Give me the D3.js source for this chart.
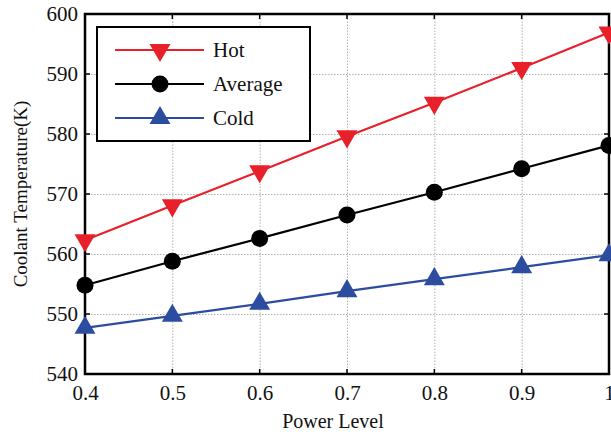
<!DOCTYPE html>
<html>
<head>
<meta charset="utf-8">
<script src="https://cdn.jsdelivr.net/npm/d3@7"></script>
<style>
  body { margin: 0; background: #fff; overflow: hidden; }
  svg { display: block; font-family: "Liberation Serif", "Times New Roman", serif; }
  .grid line { stroke: #b0b0b0; stroke-dasharray: 1.5 1.5; stroke-width: 1; }
  .grid .domain { display: none; }
</style>
</head>
<body>
<div class="line-chart"></div>
<script>
const powerLevels = [0.4, 0.5, 0.6, 0.7, 0.8, 0.9, 1.0];
const hotValues = [562.3, 568.1, 573.8, 579.6, 585.2, 591.0, 596.9];
const averageValues = [554.8, 558.8, 562.6, 566.5, 570.3, 574.2, 578.1];
const coldValues = [547.7, 549.7, 551.7, 553.8, 555.8, 557.8, 559.8];
const xTicks = [0.4, 0.5, 0.6, 0.7, 0.8, 0.9, 1];
const yTicks = [540, 550, 560, 570, 580, 590, 600];

const width = 611, height = 435;
const margin = { left: 85, right: 2, top: 14, bottom: 61 };
const serif = '"Liberation Serif", "Times New Roman", serif';

const series = [
  { name: "Hot", values: hotValues, color: "#e8202a", marker: "down" },
  { name: "Average", values: averageValues, color: "#000000", marker: "circle" },
  { name: "Cold", values: coldValues, color: "#2b4c9f", marker: "up" }
];

const svg = d3.select(".line-chart")
  .append("svg")
  .attr("width", width)
  .attr("height", height);

const x = d3.scaleLinear().domain([0.4, 1.0]).range([margin.left, width - margin.right]);
const y = d3.scaleLinear().domain([540, 600]).range([height - margin.bottom, margin.top]);

// gridlines
svg.append("g")
  .attr("class", "grid")
  .attr("transform", "translate(0," + (height - margin.bottom) + ")")
  .call(d3.axisBottom(x).tickValues(xTicks).tickSize(-(height - margin.top - margin.bottom)).tickFormat(""));
svg.append("g")
  .attr("class", "grid")
  .attr("transform", "translate(" + margin.left + ",0)")
  .call(d3.axisLeft(y).tickValues(yTicks).tickSize(-(width - margin.left - margin.right)).tickFormat(""));

// axes
const xAxis = svg.append("g")
  .attr("transform", "translate(0," + (height - margin.bottom) + ")")
  .call(d3.axisBottom(x).tickValues(xTicks).tickSize(0).tickPadding(11).tickFormat(d => d === 1 ? "1" : d3.format(".1f")(d)));
xAxis.select(".domain").remove();

const yAxis = svg.append("g")
  .attr("transform", "translate(" + margin.left + ",0)")
  .call(d3.axisLeft(y).tickValues(yTicks).tickSize(0).tickPadding(7));
yAxis.select(".domain").remove();

[xAxis, yAxis].forEach(a => {
  a.attr("font-family", null).attr("font-size", null);
  a.selectAll("text")
    .style("font-family", serif)
    .style("font-size", "21px")
    .attr("fill", "#111");
});

// inward ticks on all four sides
const tickLen = 5;
const tickG = svg.append("g").attr("stroke", "#000").attr("stroke-width", 1.5);
xTicks.forEach(t => {
  tickG.append("line").attr("x1", x(t)).attr("x2", x(t)).attr("y1", y(540)).attr("y2", y(540) - tickLen);
  tickG.append("line").attr("x1", x(t)).attr("x2", x(t)).attr("y1", y(600)).attr("y2", y(600) + tickLen);
});
yTicks.forEach(t => {
  tickG.append("line").attr("x1", x(0.4)).attr("x2", x(0.4) + tickLen).attr("y1", y(t)).attr("y2", y(t));
  tickG.append("line").attr("x1", x(1.0)).attr("x2", x(1.0) - tickLen).attr("y1", y(t)).attr("y2", y(t));
});

// frame
svg.append("rect")
  .attr("x", x(0.4)).attr("y", y(600))
  .attr("width", x(1.0) - x(0.4)).attr("height", y(540) - y(600))
  .attr("fill", "none").attr("stroke", "#000").attr("stroke-width", 2.5);

const line = d3.line().x((d, i) => x(powerLevels[i])).y(d => y(d));

const drawMarker = (g, kind, color, cx, cy) => {
  if (kind === "circle") {
    g.append("circle").attr("cx", cx).attr("cy", cy).attr("r", 8.5).attr("fill", color);
  } else {
    const sym = d3.symbol().type(d3.symbolTriangle).size(190);
    g.append("path")
      .attr("d", sym())
      .attr("fill", color)
      .attr("transform", "translate(" + cx + "," + cy + ")" + (kind === "down" ? " rotate(180)" : ""));
  }
};

series.forEach(s => {
  svg.append("path")
    .datum(s.values)
    .attr("d", line)
    .attr("fill", "none")
    .attr("stroke", s.color)
    .attr("stroke-width", 2.2);
  const g = svg.append("g");
  s.values.forEach((v, i) => drawMarker(g, s.marker, s.color, x(powerLevels[i]), y(v)));
});

// legend
const legend = svg.append("g");
legend.append("rect")
  .attr("x", 97).attr("y", 27).attr("width", 213).attr("height", 114)
  .attr("fill", "#fff").attr("stroke", "#000").attr("stroke-width", 2);
series.forEach((s, i) => {
  const ly = 50 + i * 34;
  legend.append("line").attr("x1", 115).attr("x2", 204).attr("y1", ly).attr("y2", ly)
    .attr("stroke", s.color).attr("stroke-width", 2.2);
  drawMarker(legend, s.marker, s.color, 160, ly);
  legend.append("text").attr("x", 213).attr("y", ly).attr("dy", "0.35em")
    .style("font-size", "21px").attr("fill", "#111").text(s.name);
});

// axis titles
svg.append("text")
  .attr("x", (x(0.4) + x(1.0)) / 2 - 14).attr("y", 428)
  .attr("text-anchor", "middle").style("font-size", "20px").attr("fill", "#111")
  .text("Power Level");
svg.append("text")
  .attr("transform", "translate(27," + ((y(540) + y(600)) / 2) + ") rotate(-90)")
  .attr("text-anchor", "middle").style("font-size", "19px").attr("fill", "#111")
  .text("Coolant Temperature(K)");
</script>
</body>
</html>
